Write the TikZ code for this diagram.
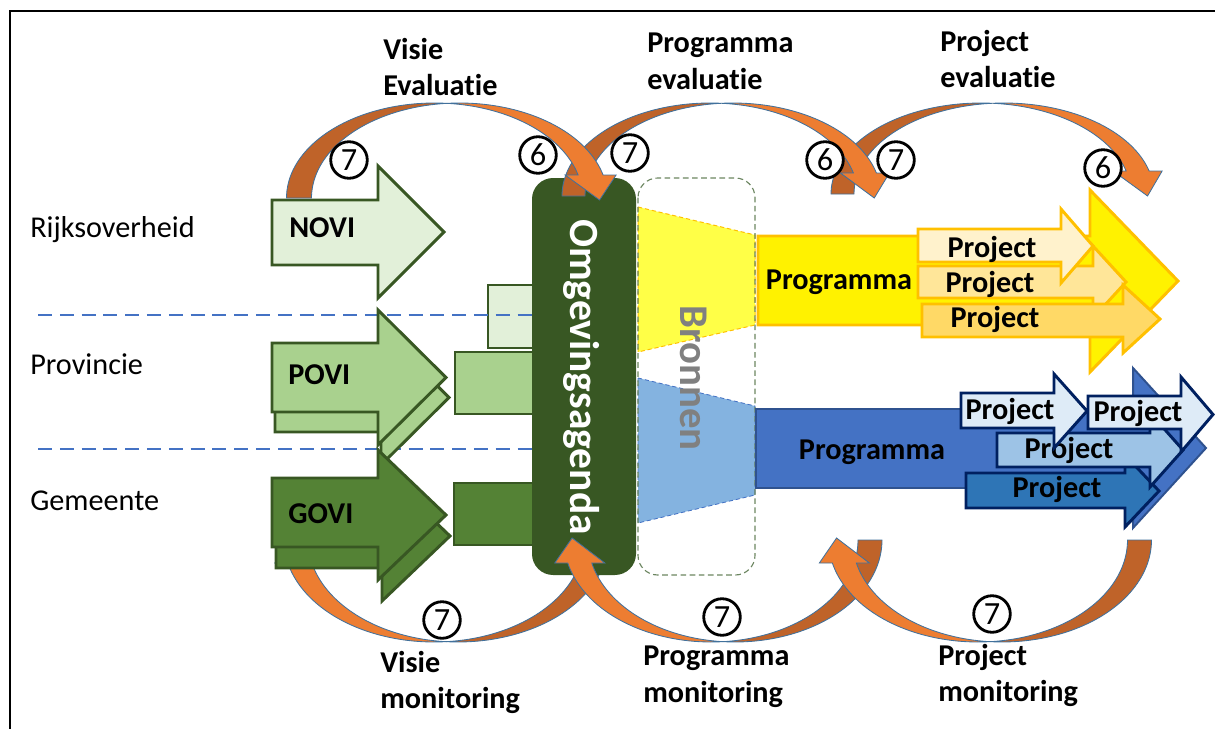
\documentclass[tikz,border=0pt]{standalone}
\usepackage{fontspec}
\setmainfont{Carlito}[Ligatures={NoCommon,NoRare}]
\definecolor{agdark}{HTML}{385723}
\definecolor{noviF}{HTML}{E2F0D9}
\definecolor{poviF}{HTML}{A9D18E}
\definecolor{goviF}{HTML}{548235}
\definecolor{arcorange}{HTML}{ED7D31}
\definecolor{arcback}{HTML}{BF6329}
\definecolor{arcedge}{HTML}{41719C}
\definecolor{sepblue}{HTML}{4472C4}
\definecolor{ytrapF}{HTML}{FFFF47}
\definecolor{btrapF}{HTML}{84B3E0}
\definecolor{yborder}{HTML}{FFC000}
\definecolor{yp1F}{HTML}{FFF2CC}
\definecolor{yp2F}{HTML}{FFE699}
\definecolor{yp3F}{HTML}{FFD966}
\definecolor{bprogF}{HTML}{4472C4}
\definecolor{bprogD}{HTML}{2F528F}
\definecolor{navy}{HTML}{002060}
\definecolor{bp1F}{HTML}{DEEBF7}
\definecolor{bp3F}{HTML}{9DC3E6}
\definecolor{bp4F}{HTML}{2E75B6}
\definecolor{bronedge}{HTML}{6B8560}
\definecolor{brontext}{HTML}{808080}

% block arrow: style, x0, head base x, body top, body bottom, head top, head bottom, tip x
\newcommand\flatarrow[8]{%
  \filldraw[#1] (#2,#4) -- (#3,#4) -- (#3,#6) -- (#8,{(#6+#7)/2})
    -- (#3,#7) -- (#3,#5) -- (#2,#5) -- cycle;}

% curved band arrow, back face: centre x, base y, rx, ry, band width, xscale, yscale
\newcommand\arcdark[7]{%
  \begin{scope}[shift={(#1,#2)},xscale=#6,yscale=#7]
    \pgfmathsetmacro\angA{acos(#5/(2*#3))}
    \pgfmathsetmacro\angB{180-\angA}
    \filldraw[darkarc] plot[domain=180:\angA,samples=50] ({#3*cos(\x)},{-#4*sin(\x)})
      -- plot[domain=\angB:180,samples=50] ({#5+#3*cos(\x)},{-#4*sin(\x)}) -- cycle;
  \end{scope}}

% curved band arrow, front face with the head
\newcommand\arclight[7]{%
  \begin{scope}[shift={(#1,#2)},xscale=#6,yscale=#7]
    \pgfmathsetmacro\angA{acos(#5/(2*#3))}
    \pgfmathsetmacro\angB{180-\angA}
    \pgfmathsetmacro\angN{asin(23/#4)}
    \pgfmathsetmacro\nko{#5+#3*cos(\angN)}
    \pgfmathsetmacro\nki{#3*cos(\angN)}
    \pgfmathsetmacro\tipx{(\nko+\nki)/2+23*#3*sin(\angN)/(#4*cos(\angN))}
    \filldraw[lightarc] plot[domain=\angB:\angN,samples=50] ({#5+#3*cos(\x)},{-#4*sin(\x)})
      -- ({\nko+13},-23) -- (\tipx,2) -- ({\nki-13},-23)
      -- plot[domain=\angN:\angA,samples=50] ({#3*cos(\x)},{-#4*sin(\x)}) -- cycle;
  \end{scope}}

\begin{document}
\begin{tikzpicture}[x=0.025cm,y=-0.025cm,
  font=\fontsize{21.5pt}{25.9pt}\selectfont,
  lbl/.style={anchor=base west,inner sep=0pt},
  blbl/.style={anchor=north west,inner sep=0pt,align=left,font=\bfseries\fontsize{21.5pt}{25.9pt}\selectfont},
  ptxt/.style={anchor=base,inner sep=0pt,font=\bfseries\fontsize{21.5pt}{25pt}\selectfont},
  numc/.style={circle,draw=black,line width=2pt,fill=white,minimum size=26pt,inner sep=0pt,
    font=\fontsize{23pt}{26pt}\selectfont},
  darkarc/.style={fill=arcback,draw=arcedge,line width=0.6pt},
  lightarc/.style={fill=arcorange,draw=arcedge,line width=0.6pt},
  novi/.style={fill=noviF,draw=agdark,line width=2.1pt},
  povi/.style={fill=poviF,draw=agdark,line width=2.1pt},
  govi/.style={fill=goviF,draw=agdark,line width=2.1pt},
  sepline/.style={draw=sepblue,line width=1.2pt,dash pattern=on 10pt off 5.5pt},
  ytrap/.style={fill=ytrapF,draw=yborder,line width=0.7pt,dash pattern=on 3pt off 2pt},
  btrap/.style={fill=btrapF,draw=sepblue,line width=0.6pt,dash pattern=on 3pt off 2pt},
  bronbox/.style={draw=bronedge,line width=0.8pt,dash pattern=on 4pt off 2.5pt,rounded corners=14pt},
  yprog/.style={fill=yellow,draw=yborder,line width=2.1pt},
  yp1/.style={fill=yp1F,draw=yborder,line width=2.1pt},
  yp2/.style={fill=yp2F,draw=yborder,line width=2.1pt},
  yp3/.style={fill=yp3F,draw=yborder,line width=2.1pt},
  bprog/.style={fill=bprogF,draw=bprogD,line width=1.4pt},
  bp1/.style={fill=bp1F,draw=navy,line width=2.1pt},
  bp3/.style={fill=bp3F,draw=navy,line width=2.1pt},
  bp4/.style={fill=bp4F,draw=navy,line width=2.1pt}]
\useasboundingbox (0,0) rectangle (1215,729);

% page frame
\draw[line width=1.4pt] (10,740) -- (10,11) -- (1230,11);

% levels
\node[lbl] (rijk) at (30,237) {Rijksoverheid};
\node[lbl] (prov) at (30,374) {Provincie};
\node[lbl] (gem) at (30,510) {Gemeente};

% monitoring loop of the vision, lying under the green arrows
\arcdark{458}{540}{150}{102}{24}{-1}{-1}
\arclight{458}{540}{150}{102}{24}{-1}{-1}

% small blocks feeding the agenda
\filldraw[novi] (488,285) rectangle (545,348);
\draw[sepline] (38,315) -- (532,315);
\draw[sepline] (38,449) -- (532,449);
\filldraw[povi] (455,352) rectangle (545,414);
\filldraw[govi] (454,483) rectangle (545,545);

% vision arrows
\flatarrow{novi}{272}{378}{200}{265}{166}{298}{444}
\flatarrow{povi}{275}{381}{363}{432}{330}{465}{449}
\flatarrow{povi}{272}{378}{343}{412}{310}{445}{446}
\flatarrow{govi}{276}{382}{499}{568}{471}{601}{450}
\flatarrow{govi}{272}{378}{478}{547}{450}{580}{446}
\node[ptxt,anchor=base west] (novit) at (289,237) {NOVI};
\node[ptxt,anchor=base west] (povit) at (288,384) {POVI};
\node[ptxt,anchor=base west] (govit) at (288,523) {GOVI};

% agenda column
\fill[agdark,rounded corners=15pt] (532,178) rectangle (636,575);
\node[rotate=-90,text=white,inner sep=0pt,font=\bfseries\fontsize{29.5pt}{33pt}\selectfont] (agtext) at (582,377) {Omgevingsagenda};

% sources
\filldraw[ytrap] (638,207) -- (755,235) -- (755,325) -- (638,352) -- cycle;
\filldraw[btrap] (638,378) -- (755,406) -- (755,495) -- (638,523) -- cycle;
\draw[bronbox] (638,178) rectangle (755,575);
\node[rotate=-90,text=brontext,inner sep=0pt,font=\bfseries\fontsize{29pt}{32pt}\selectfont] (brontxt) at (694,378) {Bronnen};

% programme and projects, yellow
\flatarrow{yprog}{758}{1090}{236}{325}{190}{372}{1178}
\node[ptxt] (yprogt) at (839,289) {Programma};
\flatarrow{yp2}{918}{1093}{266}{298}{246}{318}{1126}
\node[ptxt] (yp2t) at (990,292) {Project};
\flatarrow{yp3}{922}{1123}{304}{337}{285}{353}{1160}
\node[ptxt] (yp3t) at (995,327) {Project};
\flatarrow{yp1}{918}{1061}{229}{262}{209}{283}{1093}
\node[ptxt] (yp1t) at (992,257) {Project};

% programme and projects, blue
\flatarrow{bprog}{756}{1133}{409}{488}{368}{528}{1206}
\node[ptxt] (bprogt) at (872,459) {Programma};
\flatarrow{bp4}{966}{1125}{473}{508}{455}{527}{1159}
\node[ptxt] (bp4t) at (1057,497) {Project};
\flatarrow{bp3}{997}{1150}{433}{467}{413}{487}{1183}
\node[ptxt] (bp3t) at (1069,458) {Project};
\flatarrow{bp1}{961}{1054}{393}{428}{374}{448}{1087}
\node[ptxt] (bp1t) at (1010,419) {Project};
\flatarrow{bp1}{1088}{1181}{396}{429}{377}{452}{1213}
\node[ptxt] (bp2t) at (1138,421) {Project};

% evaluation loops (top) and monitoring loops (bottom)
\arcdark{434.5}{198}{148}{95}{25}{1}{1}
\arcdark{710}{196}{148}{93}{23}{1}{1}
\arcdark{981}{194}{150}{91}{23}{1}{1}
\arcdark{735}{540}{147}{102}{24}{-1}{-1}
\arcdark{1002}{540}{149.5}{102}{24}{-1}{-1}
\arclight{434.5}{198}{148}{95}{25}{1}{1}
\arclight{710}{196}{148}{93}{23}{1}{1}
\arclight{981}{194}{150}{91}{23}{1}{1}
\arclight{735}{540}{147}{102}{24}{-1}{-1}
\arclight{1002}{540}{149.5}{102}{24}{-1}{-1}

% step numbers
\node[numc] (n7a) at (349,160) {7};
\node[numc] (n6a) at (538,155) {6};
\node[numc] (n7b) at (630,153) {7};
\node[numc] (n6b) at (825,160) {6};
\node[numc] (n7c) at (896,160) {7};
\node[numc] (n6c) at (1103,168) {6};
\node[numc] (n7d) at (442,620) {7};
\node[numc] (n7e) at (722,617) {7};
\node[numc] (n7f) at (992,614) {7};

% loop labels
\node[blbl] (visev) at (383,38) {Visie\\Evaluatie};
\node[blbl] (progev) at (647,33) {Programma\\evaluatie};
\node[blbl] (projev) at (940,30) {Project\\evaluatie};
\node[blbl] (vismon) at (380,651) {Visie\\monitoring};
\node[blbl] (progmon) at (643,646) {Programma\\monitoring};
\node[blbl] (projmon) at (938,644) {Project\\monitoring};
\end{tikzpicture}
\end{document}
